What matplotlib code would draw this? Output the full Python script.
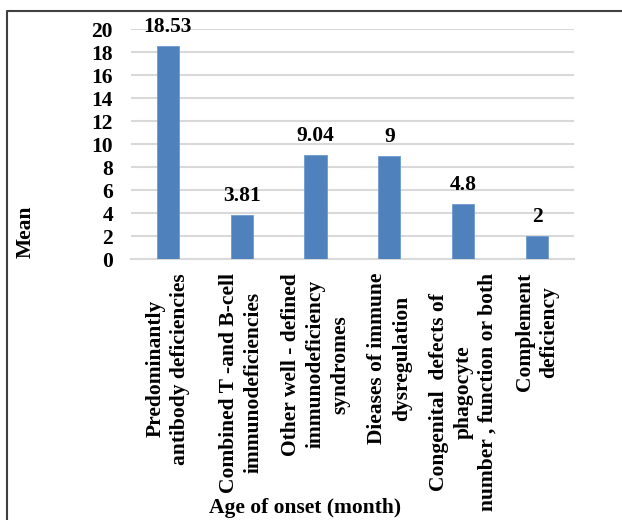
import matplotlib
matplotlib.use("Agg")
import matplotlib.pyplot as plt
from matplotlib.lines import Line2D

# Mean age of onset per group
groups = [
    "Predominantly\nantibody deficiencies",
    "Combined T -and B-cell\nimmunodeficiencies",
    "Other well - defined\nimmunodeficiency\nsyndromes",
    "Dieases of immune\ndysregulation",
    "Congenital  defects of\nphagocyte\nnumber , function or both",
    "Complement\ndeficiency",
]
means = [18.53, 3.81, 9.04, 9, 4.8, 2]
labels = ["18.53", "3.81", "9.04", "9", "4.8", "2"]
yticks = [0, 2, 4, 6, 8, 10, 12, 14, 16, 18, 20]

FS = 15.5
plt.rcParams["font.family"] = ["Liberation Serif", "DejaVu Serif"]
plt.rcParams["font.weight"] = "bold"
plt.rcParams["font.size"] = FS

fig = plt.figure(figsize=(6.22, 5.2), dpi=100)
ax = fig.add_axes([0.2106, 0.5019, 0.7122, 0.4423])

x = range(len(groups))
bars = ax.bar(x, means, width=0.3, color="#4f81bd", edgecolor="#6f9bd0",
              linewidth=0.6, zorder=3)

for rect, txt in zip(bars, labels):
    ax.annotate(txt, (rect.get_x() + rect.get_width() / 2, rect.get_height()),
                xytext=(0, 10), textcoords="offset points",
                ha="center", va="baseline", fontsize=FS, fontweight="bold",
                annotation_clip=False)

ax.set_xlim(-0.5, len(groups) - 0.5)
ax.set_ylim(0, 20)
ax.set_yticks(yticks)
ax.set_xticks(list(x))
ax.set_xticklabels(groups, rotation=90, ha="center", va="top",
                   multialignment="center", linespacing=1.3)
ax.tick_params(axis="both", length=0)
ax.tick_params(axis="y", pad=13)
ax.tick_params(axis="x", pad=10)

ax.grid(axis="y", color="#d9d9d9", linewidth=1.5, zorder=0)
for side in ["left", "right", "top"]:
    ax.spines[side].set_visible(False)
ax.spines["bottom"].set_color("#d9d9d9")
ax.spines["bottom"].set_linewidth(1.5)

ax.set_ylabel("Mean", fontsize=FS, fontweight="bold", va="center")
ax.yaxis.set_label_coords(-0.237, 0.117)
ax.set_xlabel("Age of onset (month)", fontsize=FS, fontweight="bold")
ax.xaxis.set_label_coords(0.393, -1.083)
ax.xaxis.label.set_va("center")

# frame around the chart (left and top edges)
fig.add_artist(Line2D([7 / 622, 7 / 622, 1.01], [-0.01, 1 - 11 / 520, 1 - 11 / 520],
                      transform=fig.transFigure, color="#404040", linewidth=1.5))

fig.savefig("out.png", dpi=100)
